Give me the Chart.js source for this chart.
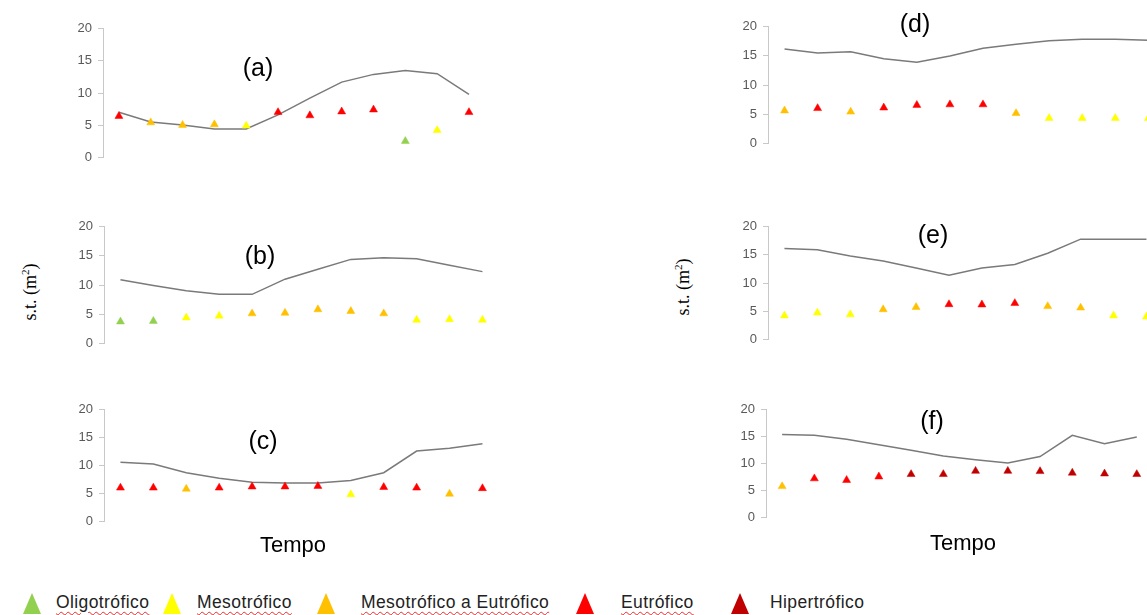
<!DOCTYPE html>
<html lang="pt">
<head>
<meta charset="utf-8">
<title>Estado trófico e s.t. ao longo do tempo</title>
<script src="https://cdn.jsdelivr.net/npm/chart.js@4.4.1/dist/chart.umd.min.js"></script>
<style>
  html, body { margin: 0; padding: 0; background: #fff; }
  body { width: 1147px; height: 615px; position: relative; overflow: hidden; font-family: "Liberation Sans", Arial, sans-serif; }
  canvas { position: absolute; }
  .tag { position: absolute; transform: translate(-50%, -50%); font-size: 25px; color: #000; white-space: nowrap; }
  .tempo { position: absolute; transform: translate(-50%, -50%); font-size: 22px; color: #000; }
  .ylab { position: absolute; transform: translate(-50%, -50%) rotate(-90deg); font-family: "Liberation Serif", "Times New Roman", serif; font-size: 18px; color: #000; white-space: nowrap; }
  .legend { position: absolute; left: 0; top: 592px; height: 22px; width: 1147px; }
  .legend .tri { position: absolute; top: 1px; width: 0; height: 0; border-left: 9px solid transparent; border-right: 9px solid transparent; border-bottom-width: 21px; border-bottom-style: solid; transform: translateX(-50%); }
  .legend .txt { position: absolute; top: 0px; font-size: 17.5px; color: #222; letter-spacing: 0.4px; white-space: nowrap; }
  .wavy { text-decoration: underline wavy #e03030; text-decoration-thickness: 1px; text-underline-offset: 3px; }
</style>
</head>
<body>
<script>
// Trophic classes and their colours
const classNames = ['Oligotrófico', 'Mesotrófico', 'Mesotrófico a Eutrófico', 'Eutrófico', 'Hipertrófico'];
const classColors = { O: '#92d050', M: '#ffff00', ME: '#ffc000', E: '#ff0000', H: '#c00000' };

// Sampling periods (x categories, not labelled)
const periods = ['1', '2', '3', '4', '5', '6', '7', '8', '9', '10', '11', '12'];

// (a)
const stA = [7.0, 5.5, 5.0, 4.4, 4.4, 6.6, 9.2, 11.7, 12.9, 13.5, 13.0, 9.8];
const trofA = [6.4, 5.4, 5.0, 5.1, 4.9, 7.0, 6.5, 7.1, 7.4, 2.5, 4.2, 7.0];
const classA = ['E', 'ME', 'ME', 'ME', 'M', 'E', 'E', 'E', 'E', 'O', 'M', 'E'];

// (b)
const stB = [10.9, 9.9, 9.0, 8.4, 8.4, 11.0, 12.7, 14.4, 14.7, 14.5, 13.4, 12.3];
const trofB = [3.7, 3.8, 4.4, 4.7, 5.1, 5.2, 5.8, 5.5, 5.1, 4.0, 4.1, 4.0];
const classB = ['O', 'O', 'M', 'M', 'ME', 'ME', 'ME', 'ME', 'ME', 'M', 'M', 'M'];

// (c)
const stC = [10.6, 10.25, 8.7, 7.7, 7.0, 6.85, 6.85, 7.3, 8.7, 12.6, 13.1, 13.9];
const trofC = [6.0, 6.0, 5.8, 6.0, 6.2, 6.2, 6.3, 4.8, 6.1, 6.0, 4.9, 5.9];
const classC = ['E', 'E', 'ME', 'E', 'E', 'E', 'E', 'M', 'E', 'E', 'ME', 'E'];

// (d)
const stD = [16.2, 15.5, 15.7, 14.5, 13.9, 15.0, 16.3, 17.0, 17.6, 17.85, 17.85, 17.7];
const trofD = [5.6, 6.0, 5.4, 6.1, 6.55, 6.65, 6.65, 5.15, 4.3, 4.3, 4.3, 4.3];
const classD = ['ME', 'E', 'ME', 'E', 'E', 'E', 'E', 'ME', 'M', 'M', 'M', 'M'];

// (e)
const stE = [16.15, 15.9, 14.8, 13.9, 12.65, 11.4, 12.65, 13.3, 15.3, 17.8, 17.8, 17.8];
const trofE = [4.2, 4.7, 4.4, 5.3, 5.7, 6.2, 6.15, 6.4, 5.85, 5.6, 4.2, 4.0];
const classE = ['M', 'M', 'M', 'ME', 'ME', 'E', 'E', 'E', 'ME', 'ME', 'M', 'M'];

// (f)
const stF = [15.4, 15.25, 14.5, 13.5, 12.45, 11.4, 10.7, 10.1, 11.3, 15.25, 13.7, 14.95];
const trofF = [5.75, 7.2, 6.9, 7.55, 8.0, 8.0, 8.6, 8.6, 8.55, 8.25, 8.1, 8.0];
const classF = ['ME', 'E', 'E', 'E', 'H', 'H', 'H', 'H', 'H', 'H', 'H', 'H'];

// Y axis ticks
const yMin = 0, yMax = 20, yStep = 5;

// Plot-area rectangles on the page (left, top, right, bottom)
const AXIS_W = 50, PAD = 10;
const panels = [
  { tag: '(a)', st: stA, trof: trofA, cls: classA, box: [103, 25, 490.4, 161], tagAt: [258, 67] },
  { tag: '(b)', st: stB, trof: trofB, cls: classB, box: [104, 223.3, 503.6, 347.3], tagAt: [260, 255] },
  { tag: '(c)', st: stC, trof: trofC, cls: classC, box: [104, 406, 503.6, 525], tagAt: [263, 440] },
  { tag: '(d)', st: stD, trof: trofD, cls: classD, box: [767.6, 23.3, 1169.3, 147.3], tagAt: [915, 23] },
  { tag: '(e)', st: stE, trof: trofE, cls: classE, box: [767.6, 222.7, 1167.7, 342.3], tagAt: [933, 234] },
  { tag: '(f)', st: stF, trof: trofF, cls: classF, box: [766, 406, 1158, 520.7], tagAt: [932, 420] }
];

function addDiv(cls, text, x, y, html) {
  const d = document.createElement('div');
  d.className = cls;
  if (html) d.innerHTML = text; else d.textContent = text;
  d.style.left = x + 'px';
  d.style.top = y + 'px';
  document.body.appendChild(d);
  return d;
}

panels.forEach(p => {
  const [l, t, r, b] = p.box;
  const cv = document.createElement('canvas');
  const w = Math.round(r - l + AXIS_W);
  const h = Math.round(b - t + 2 * PAD);
  cv.width = w; cv.height = h;
  cv.style.width = w + 'px'; cv.style.height = h + 'px';
  cv.style.left = (l - AXIS_W) + 'px';
  cv.style.top = (t - PAD) + 'px';
  document.body.appendChild(cv);

  const colors = p.cls.map(c => classColors[c]);
  new Chart(cv.getContext('2d'), {
    type: 'line',
    data: {
      labels: periods,
      datasets: [
        {
          label: 's.t. (m²)',
          data: p.st,
          borderColor: '#7a7a7a',
          borderWidth: 1.5,
          pointRadius: 0,
          fill: false,
          tension: 0,
          order: 2
        },
        {
          label: 'Estado trófico',
          data: p.trof,
          showLine: false,
          pointStyle: 'triangle',
          pointRadius: 4.6,
          pointBackgroundColor: colors,
          pointBorderColor: colors,
          pointBorderWidth: 0.5,
          order: 1
        }
      ]
    },
    options: {
      responsive: false,
      animation: false,
      devicePixelRatio: 1,
      layout: { padding: { top: PAD, bottom: PAD, left: 0, right: 0 } },
      plugins: { legend: { display: false }, tooltip: { enabled: false } },
      scales: {
        x: { display: false, offset: true },
        y: {
          min: yMin, max: yMax,
          ticks: { stepSize: yStep, padding: 6, color: '#595959', font: { family: 'Liberation Sans', size: 13 } },
          grid: { drawOnChartArea: false, drawTicks: true, tickLength: 5, color: '#c8c8c8' },
          border: { display: true, color: '#c8c8c8', width: 1 },
          afterFit(s) { s.width = AXIS_W; }
        }
      }
    }
  });

  addDiv('tag', p.tag, p.tagAt[0], p.tagAt[1]);
});

// Axis titles
addDiv('tempo', 'Tempo', 293, 545);
addDiv('tempo', 'Tempo', 963, 543);
addDiv('ylab', 's.t. (m<sup style="font-size:11px">2</sup>)', 30, 292, true);
addDiv('ylab', 's.t. (m<sup style="font-size:11px">2</sup>)', 683, 287, true);

// Legend of trophic classes
const legend = document.createElement('div');
legend.className = 'legend';
document.body.appendChild(legend);
const legendKeys = ['O', 'M', 'ME', 'E', 'H'];
const legendTriX = [32, 172, 326, 585, 740];
const legendTxtX = [56, 197, 361, 621, 770];
legendKeys.forEach((k, i) => {
  const tri = document.createElement('div');
  tri.className = 'tri';
  tri.style.left = legendTriX[i] + 'px';
  tri.style.borderBottomColor = classColors[k];
  legend.appendChild(tri);
  const tx = document.createElement('div');
  tx.className = 'txt';
  tx.style.left = legendTxtX[i] + 'px';
  const span = document.createElement('span');
  if (k !== 'H') span.className = 'wavy';
  span.textContent = classNames[i];
  tx.appendChild(span);
  legend.appendChild(tx);
});
</script>
</body>
</html>
